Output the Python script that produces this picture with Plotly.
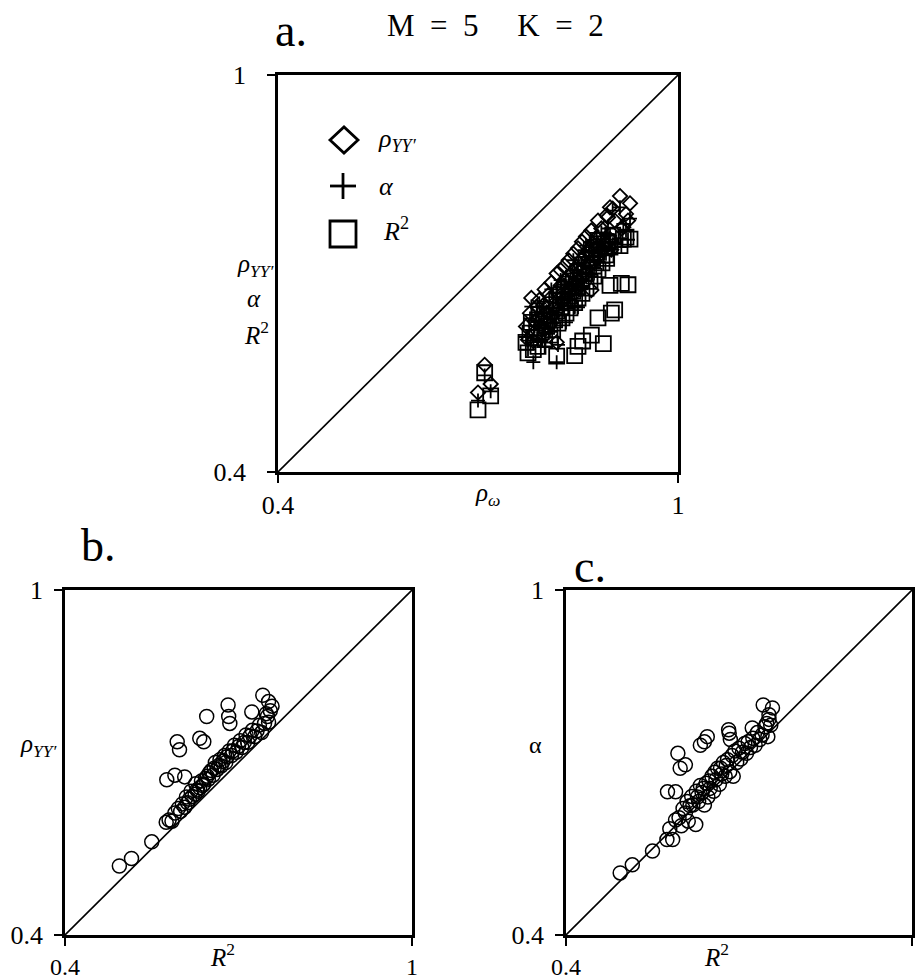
import plotly.graph_objects as go

# ---- data: one row per simulated dataset ----
rho_w = [0.700, 0.719, 0.710,
         0.818, 0.857, 0.888, 0.880, 0.900, 0.898, 0.925, 0.845, 0.850, 0.870, 0.905, 0.915, 0.893, 0.913, 0.928,
         0.775, 0.783, 0.790, 0.772, 0.800, 0.785, 0.808, 0.778, 0.795, 0.812, 0.788, 0.803, 0.820, 0.780, 0.798,
         0.815, 0.826, 0.806, 0.792, 0.832, 0.818, 0.800, 0.838, 0.824, 0.810, 0.845, 0.830, 0.818, 0.850, 0.836,
         0.824, 0.856, 0.842, 0.830, 0.862, 0.848, 0.836, 0.868, 0.855, 0.843, 0.874, 0.860, 0.850, 0.880, 0.866,
         0.856, 0.886, 0.872, 0.862, 0.892, 0.878, 0.870, 0.898, 0.885, 0.880, 0.918, 0.895, 0.922, 0.902]
rho_yy = [0.520, 0.533, 0.562,
          0.596, 0.722, 0.736, 0.742, 0.736, 0.800, 0.780, 0.670, 0.678, 0.675, 0.780, 0.768, 0.788, 0.817, 0.806,
          0.600, 0.598, 0.612, 0.620, 0.615, 0.628, 0.622, 0.640, 0.630, 0.636, 0.650, 0.641, 0.645, 0.663, 0.652,
          0.650, 0.656, 0.668, 0.660, 0.662, 0.672, 0.676, 0.671, 0.682, 0.686, 0.678, 0.690, 0.700, 0.688, 0.695,
          0.705, 0.694, 0.702, 0.712, 0.700, 0.710, 0.720, 0.712, 0.720, 0.730, 0.718, 0.728, 0.738, 0.726, 0.735,
          0.748, 0.735, 0.746, 0.756, 0.745, 0.755, 0.765, 0.752, 0.768, 0.780, 0.770, 0.785, 0.790, 0.798]
alpha = [0.508, 0.522, 0.546,
         0.566, 0.690, 0.716, 0.730, 0.736, 0.757, 0.751, 0.649, 0.649, 0.696, 0.745, 0.740, 0.760, 0.800, 0.783,
         0.585, 0.566, 0.600, 0.604, 0.590, 0.620, 0.612, 0.632, 0.598, 0.625, 0.641, 0.626, 0.592, 0.650, 0.640,
         0.632, 0.660, 0.648, 0.655, 0.626, 0.664, 0.640, 0.668, 0.655, 0.676, 0.650, 0.683, 0.670, 0.690, 0.662,
         0.690, 0.680, 0.700, 0.676, 0.695, 0.705, 0.684, 0.712, 0.676, 0.720, 0.700, 0.725, 0.706, 0.718, 0.733,
         0.716, 0.736, 0.726, 0.742, 0.730, 0.752, 0.740, 0.748, 0.762, 0.745, 0.775, 0.768, 0.765, 0.795]
r2 = [0.494, 0.515, 0.550,
      0.575, 0.598, 0.594, 0.633, 0.640, 0.682, 0.683, 0.576, 0.590, 0.607, 0.645, 0.685, 0.723, 0.742, 0.752,
      0.580, 0.585, 0.590, 0.596, 0.600, 0.603, 0.607, 0.610, 0.612, 0.615, 0.618, 0.620, 0.625, 0.626, 0.628,
      0.630, 0.633, 0.636, 0.638, 0.640, 0.643, 0.646, 0.648, 0.650, 0.653, 0.656, 0.658, 0.660, 0.663, 0.666,
      0.668, 0.670, 0.673, 0.676, 0.678, 0.680, 0.684, 0.688, 0.690, 0.693, 0.696, 0.700, 0.703, 0.706, 0.710,
      0.713, 0.716, 0.720, 0.724, 0.728, 0.732, 0.736, 0.740, 0.745, 0.750, 0.752, 0.748, 0.755, 0.758]

tick_vals = [0.4, 1]
tick_text = ["0.4", "1"]
axis_range = [0.4, 1]

W, H = 917, 980
SERIF = "Liberation Serif"


def fx(p):
    return p / W


def fy(p):
    return 1 - p / H


fig = go.Figure()

sq = dict(symbol="square-open", size=15, color="black", line=dict(width=1.8, color="black"))
dia = dict(symbol="diamond-open", size=11, color="black", line=dict(width=1.8, color="black"))
crs = dict(symbol="cross-thin", size=10, color="black", line=dict(width=1.8, color="black"))
circ = dict(symbol="circle-open", size=14, color="black", line=dict(width=1.5, color="black"))

fig.add_trace(go.Scatter(x=rho_w, y=r2, mode="markers", marker=sq, xaxis="x", yaxis="y", showlegend=False))
fig.add_trace(go.Scatter(x=rho_w, y=rho_yy, mode="markers", marker=dia, xaxis="x", yaxis="y", showlegend=False))
fig.add_trace(go.Scatter(x=rho_w, y=alpha, mode="markers", marker=crs, xaxis="x", yaxis="y", showlegend=False))
fig.add_trace(go.Scatter(x=r2, y=rho_yy, mode="markers", marker=circ, xaxis="x2", yaxis="y2", showlegend=False))
fig.add_trace(go.Scatter(x=r2, y=alpha, mode="markers", marker=circ, xaxis="x3", yaxis="y3", showlegend=False))


def ax(domain, anchor, standoff, size=26):
    return dict(domain=domain, anchor=anchor, range=axis_range, tickvals=tick_vals, ticktext=tick_text,
                showgrid=False, zeroline=False, showline=True, linecolor="black", linewidth=2.5,
                mirror=True, ticks="outside", ticklen=8, tickwidth=2, tickcolor="black",
                ticklabelstandoff=standoff, automargin=False,
                tickfont=dict(family=SERIF, size=size, color="black"), fixedrange=True)


xa = [fx(278), fx(678)]
ya = [fy(472), fy(75)]
xb = [fx(65), fx(412)]
yb = [fy(935), fy(590)]
xc = [fx(566), fx(912)]

fig.update_layout(
    width=W, height=H, margin=dict(l=0, r=0, t=0, b=0, autoexpand=False),
    paper_bgcolor="white", plot_bgcolor="white",
    xaxis=ax(xa, "y", 0), yaxis=ax(ya, "x", 16),
    xaxis2=ax(xb, "y2", 0, 24), yaxis2=ax(yb, "x2", 6),
    xaxis3=ax(xc, "y3", 0, 24), yaxis3=ax(yb, "x3", 6),
)

shapes = []
for xr, yr in [("x", "y"), ("x2", "y2"), ("x3", "y3")]:
    shapes.append(dict(type="line", xref=xr, yref=yr, x0=axis_range[0], y0=axis_range[0],
                       x1=axis_range[1], y1=axis_range[1], line=dict(color="black", width=1.6)))

# legend keys for panel a
lw = 2.8
cx, cy, hx, hy = 344, 140, 14, 13
shapes.append(dict(type="path", xref="paper", yref="paper",
                   path=f"M {fx(cx-hx)},{fy(cy)} L {fx(cx)},{fy(cy-hy)} L {fx(cx+hx)},{fy(cy)} L {fx(cx)},{fy(cy+hy)} Z",
                   line=dict(color="black", width=lw)))
cx, cy, h = 343, 186, 13
shapes.append(dict(type="line", xref="paper", yref="paper", x0=fx(cx-h), x1=fx(cx+h), y0=fy(cy), y1=fy(cy),
                   line=dict(color="black", width=lw)))
shapes.append(dict(type="line", xref="paper", yref="paper", x0=fx(cx), x1=fx(cx), y0=fy(cy-h), y1=fy(cy+h),
                   line=dict(color="black", width=lw)))
cx, cy, h = 343, 234, 13
shapes.append(dict(type="rect", xref="paper", yref="paper", x0=fx(cx-h), x1=fx(cx+h), y0=fy(cy+h), y1=fy(cy-h),
                   line=dict(color="black", width=lw)))
fig.update_layout(shapes=shapes)

RHO_YY = "<i>ρ</i><sub><i>YY′</i></sub>"
ALPHA = "<i>α</i>"
R2 = "<i>R</i><sup>2</sup>"
NB = "\u00a0"


def ann(text, x, y, size, xanchor="center", family=SERIF):
    return dict(text=text, x=fx(x), y=fy(y), xref="paper", yref="paper", showarrow=False,
                xanchor=xanchor, yanchor="middle", font=dict(family=family, size=size, color="black"))


title_m = f"M{NB}{NB}={NB}{NB}5{NB}{NB}{NB}{NB}{NB}K{NB}{NB}={NB}{NB}2"

annotations = [
    ann("a.", 291, 30, 46),
    ann(title_m, 495, 26, 31),
    ann("b.", 98, 545, 46),
    ann("c.", 590, 566, 46),
    # legend labels
    ann(RHO_YY, 376, 140, 26, "left"),
    ann(ALPHA, 377, 186, 26, "left"),
    ann(R2, 381, 229, 26, "left"),
    # panel a axis titles
    ann(RHO_YY, 255, 265, 25),
    ann(ALPHA, 254, 298, 25),
    ann(R2, 256, 333, 25),
    ann("<i>ρ</i><sub><i>ω</i></sub>", 487, 495, 25),
    # panel b
    ann(RHO_YY, 38, 745, 25),
    ann(R2, 222, 955, 25),
    # panel c
    ann("α", 535, 745, 24),
    ann(R2, 716, 955, 25),
]
fig.update_layout(annotations=annotations)

fig.write_html("out.html", post_script="document.body.style.margin='0';",
               config={"displayModeBar": False})
